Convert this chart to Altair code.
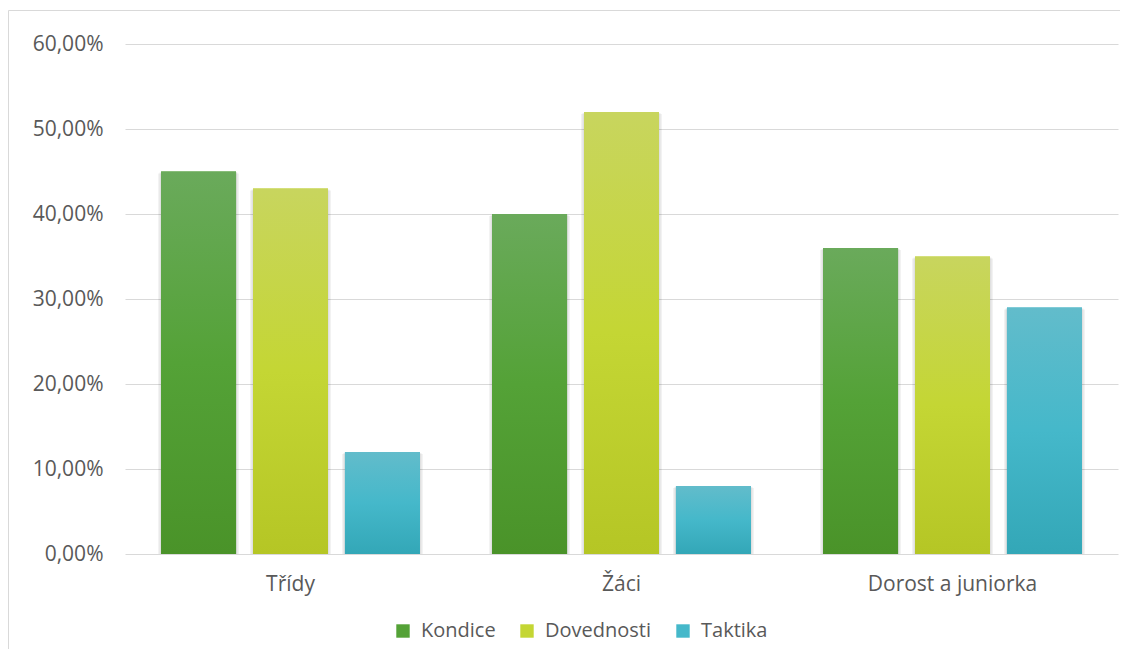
import altair as alt
import pandas as pd

groups = ["Třídy", "Žáci", "Dorost a juniorka"]
series = ["Kondice", "Dovednosti", "Taktika"]
kondice = [0.45, 0.40, 0.36]
dovednosti = [0.43, 0.52, 0.35]
taktika = [0.12, 0.08, 0.29]
y_ticks = [0.0, 0.1, 0.2, 0.3, 0.4, 0.5, 0.6]

solid_colors = ["#54a237", "#c4d634", "#45b8ca"]
gradients = {
    "Kondice": ["#6aaa5b", "#54a237", "#4a9329"],
    "Dovednosti": ["#c8d55e", "#c4d634", "#b5c625"],
    "Taktika": ["#62bccb", "#45b8ca", "#33a7b7"],
}

rows = []
for s, vals in zip(series, [kondice, dovednosti, taktika]):
    for g, v in zip(groups, vals):
        rows.append({"group": g, "series": s, "value": v})
df = pd.DataFrame(rows)

FONT = "Open Sans"
TEXT = "#595959"

x_enc = alt.X("group:N", sort=groups,
              scale=alt.Scale(paddingInner=0, paddingOuter=0),
              axis=alt.Axis(title=None, labelAngle=0, ticks=False, domain=False,
                            labelPadding=19, labelFontSize=21, labelColor=TEXT,
                            labelFont=FONT, grid=False))
xo_enc = alt.XOffset("series:N", sort=series,
                     scale=alt.Scale(domain=series, paddingInner=0.18, paddingOuter=0.39))
y_enc = alt.Y("value:Q",
              scale=alt.Scale(domain=[0, 0.6], nice=False),
              axis=alt.Axis(title=None, values=y_ticks, ticks=False, domain=False,
                            grid=True, gridColor="#d9d9d9", gridWidth=1,
                            labelPadding=22, labelFontSize=21, labelColor=TEXT,
                            labelFont=FONT,
                            labelExpr="replace(format(datum.value, '.2%'), '.', ',')"))

base = alt.Chart(df)

shadow1 = base.mark_bar(width=81, color="#000000", opacity=0.05, yOffset=2).encode(
    x=x_enc, xOffset=xo_enc, y=y_enc, y2=alt.datum(0))
shadow2 = base.mark_bar(width=78, color="#000000", opacity=0.07, yOffset=1).encode(
    x=x_enc, xOffset=xo_enc, y=y_enc, y2=alt.datum(0))

solid = base.mark_bar(width=75).encode(
    x=x_enc, xOffset=xo_enc, y=y_enc,
    color=alt.Color("series:N", sort=series,
                    scale=alt.Scale(domain=series, range=solid_colors),
                    legend=alt.Legend(title=None, orient="none", direction="horizontal",
                                      legendX=268, legendY=577,
                                      symbolType="square", symbolSize=180,
                                      symbolStrokeWidth=0, labelFontSize=20,
                                      labelFont=FONT, labelColor=TEXT,
                                      labelOffset=8, columnPadding=21)))

grad_layers = []
for s in series:
    c = gradients[s]
    fill = alt.LinearGradient(
        gradient="linear", x1=0, y1=0, x2=0, y2=1,
        stops=[alt.GradientStop(offset=0, color=c[0]),
               alt.GradientStop(offset=0.5, color=c[1]),
               alt.GradientStop(offset=1, color=c[2])])
    grad_layers.append(
        base.mark_bar(width=75, fill=fill).encode(
            x=x_enc, xOffset=xo_enc, y=y_enc
        ).transform_filter(alt.datum.series == s)
    )

one = pd.DataFrame({"a": [0]})
border_top = alt.Chart(one).mark_rule(color="#d9d9d9", strokeWidth=1).encode(
    x=alt.value(-116.5), x2=alt.value(1000), y=alt.value(-33.5))
border_left = alt.Chart(one).mark_rule(color="#d9d9d9", strokeWidth=1).encode(
    x=alt.value(-116.5), y=alt.value(-33.5), y2=alt.value(620))

chart = alt.layer(border_top, border_left, shadow1, shadow2, solid, *grad_layers).properties(
    width=993, height=510,
    background="white",
    autosize=alt.AutoSizeParams(type="none"),
    padding={"left": 117, "top": 36, "right": 2, "bottom": 95},
).configure_view(stroke="transparent", strokeWidth=0)

chart.save("out.html", embed_options={"renderer": "svg", "actions": False})
